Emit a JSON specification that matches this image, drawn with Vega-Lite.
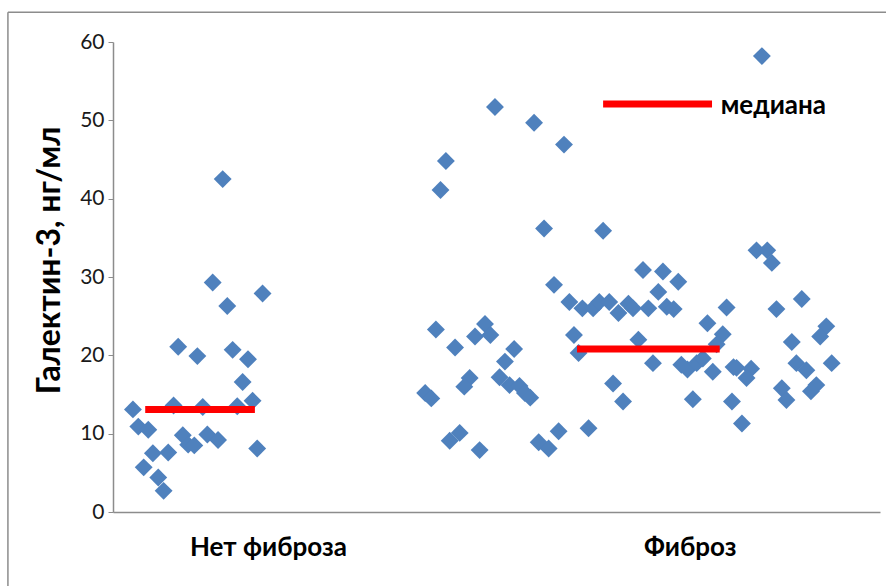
{
  "$schema": "https://vega.github.io/schema/vega-lite/v6.json",
  "width": 767,
  "height": 470,
  "autosize": {"type": "none"},
  "padding": {"left": 113, "top": 42, "right": 6, "bottom": 74},
  "background": "white",
  "config": {
    "view": {"stroke": null},
    "font": "Lato"
  },
  "datasets": {
    "points": [
      {"pos": 14.3, "value": 42.5}, {"pos": 13.0, "value": 29.3}, {"pos": 19.5, "value": 27.9},
      {"pos": 14.9, "value": 26.3}, {"pos": 8.5, "value": 21.1}, {"pos": 11.0, "value": 19.9},
      {"pos": 15.6, "value": 20.7}, {"pos": 17.6, "value": 19.5}, {"pos": 16.9, "value": 16.6},
      {"pos": 2.6, "value": 13.1}, {"pos": 7.9, "value": 13.6}, {"pos": 11.7, "value": 13.4},
      {"pos": 16.2, "value": 13.5}, {"pos": 18.2, "value": 14.2}, {"pos": 3.3, "value": 10.9},
      {"pos": 4.6, "value": 10.5}, {"pos": 9.1, "value": 9.8}, {"pos": 9.8, "value": 8.6},
      {"pos": 10.6, "value": 8.5}, {"pos": 12.3, "value": 9.9}, {"pos": 13.7, "value": 9.2},
      {"pos": 18.8, "value": 8.1}, {"pos": 5.2, "value": 7.5}, {"pos": 7.2, "value": 7.6},
      {"pos": 4.0, "value": 5.7}, {"pos": 5.9, "value": 4.4}, {"pos": 6.6, "value": 2.7},

      {"pos": 49.8, "value": 51.7}, {"pos": 54.9, "value": 49.7}, {"pos": 58.8, "value": 46.9},
      {"pos": 43.4, "value": 44.8}, {"pos": 42.7, "value": 41.1}, {"pos": 56.2, "value": 36.2},
      {"pos": 63.9, "value": 35.9}, {"pos": 57.5, "value": 29.0}, {"pos": 59.5, "value": 26.8},
      {"pos": 61.2, "value": 26.0}, {"pos": 62.6, "value": 26.0}, {"pos": 63.4, "value": 26.8},
      {"pos": 64.7, "value": 26.8}, {"pos": 65.9, "value": 25.4}, {"pos": 67.2, "value": 26.6},
      {"pos": 67.8, "value": 26.0}, {"pos": 69.8, "value": 26.0}, {"pos": 72.2, "value": 26.2},
      {"pos": 73.1, "value": 25.9}, {"pos": 69.1, "value": 30.9}, {"pos": 71.7, "value": 30.7},
      {"pos": 73.7, "value": 29.4}, {"pos": 71.1, "value": 28.1}, {"pos": 42.1, "value": 23.3},
      {"pos": 44.6, "value": 21.0}, {"pos": 48.5, "value": 24.0}, {"pos": 47.2, "value": 22.4},
      {"pos": 49.2, "value": 22.6}, {"pos": 52.3, "value": 20.8}, {"pos": 51.1, "value": 19.2},
      {"pos": 60.1, "value": 22.6}, {"pos": 60.7, "value": 20.3}, {"pos": 40.7, "value": 15.2},
      {"pos": 41.5, "value": 14.5}, {"pos": 46.5, "value": 17.1}, {"pos": 45.8, "value": 16.0},
      {"pos": 50.4, "value": 17.2}, {"pos": 51.7, "value": 16.2}, {"pos": 53.0, "value": 16.1},
      {"pos": 53.7, "value": 15.2}, {"pos": 54.4, "value": 14.6}, {"pos": 43.9, "value": 9.1},
      {"pos": 45.2, "value": 10.1}, {"pos": 47.8, "value": 7.9}, {"pos": 55.5, "value": 8.9},
      {"pos": 56.8, "value": 8.1}, {"pos": 58.1, "value": 10.3}, {"pos": 62.0, "value": 10.7},
      {"pos": 68.5, "value": 22.0}, {"pos": 70.4, "value": 19.0}, {"pos": 65.2, "value": 16.4},
      {"pos": 66.5, "value": 14.1}, {"pos": 80.0, "value": 26.1}, {"pos": 77.5, "value": 24.1},
      {"pos": 79.5, "value": 22.7}, {"pos": 78.7, "value": 21.4}, {"pos": 74.1, "value": 18.8},
      {"pos": 74.9, "value": 18.2}, {"pos": 76.1, "value": 19.0}, {"pos": 76.9, "value": 19.6},
      {"pos": 78.2, "value": 17.9}, {"pos": 80.9, "value": 18.5}, {"pos": 75.6, "value": 14.4},
      {"pos": 80.7, "value": 14.1}, {"pos": 83.9, "value": 33.4}, {"pos": 85.3, "value": 33.4},
      {"pos": 85.9, "value": 31.8}, {"pos": 89.8, "value": 27.2}, {"pos": 86.5, "value": 25.9},
      {"pos": 93.0, "value": 23.7}, {"pos": 92.2, "value": 22.4}, {"pos": 88.5, "value": 21.7},
      {"pos": 89.1, "value": 19.0}, {"pos": 90.4, "value": 18.1}, {"pos": 93.7, "value": 19.0},
      {"pos": 81.3, "value": 18.4}, {"pos": 83.2, "value": 18.3}, {"pos": 82.6, "value": 17.1},
      {"pos": 87.2, "value": 15.8}, {"pos": 87.8, "value": 14.3}, {"pos": 91.7, "value": 16.2},
      {"pos": 91.0, "value": 15.4}, {"pos": 82.0, "value": 11.3}, {"pos": 84.6, "value": 58.2}
    ],
    "medians": [
      {"group": "Нет фиброза", "start": 4.2, "end": 18.5, "median": 13.1},
      {"group": "Фиброз", "start": 60.5, "end": 79.1, "median": 20.8},
      {"group": "legend", "start": 63.9, "end": 78.1, "median": 52.1}
    ],
    "legendLabel": [
      {"pos": 79.1, "value": 51.8, "label": "медиана"}
    ]
  },
  "layer": [
    {
      "description": "chart-area frame: top edge",
      "data": {"values": [{}]},
      "mark": {"type": "rule", "color": "#8c8c8c", "strokeWidth": 1.5, "clip": false},
      "encoding": {
        "x": {"datum": -13.7, "type": "quantitative"},
        "x2": {"datum": 102},
        "y": {"datum": 63.8, "type": "quantitative"}
      }
    },
    {
      "description": "chart-area frame: left edge",
      "data": {"values": [{}]},
      "mark": {"type": "rule", "color": "#8c8c8c", "strokeWidth": 1.5, "clip": false},
      "encoding": {
        "x": {"datum": -13.7, "type": "quantitative"},
        "y": {"datum": 63.8, "type": "quantitative"},
        "y2": {"datum": -12}
      }
    },
    {
      "data": {"name": "points"},
      "mark": {"type": "point", "shape": "diamond", "filled": true, "size": 320, "color": "#4F81BD", "opacity": 1},
      "encoding": {
        "x": {
          "field": "pos", "type": "quantitative",
          "scale": {"domain": [0, 100], "nice": false, "zero": false},
          "axis": {
            "values": [20.2, 75.2],
            "labelExpr": "datum.value < 50 ? 'Нет фиброза' : 'Фиброз'",
            "title": null,
            "grid": false,
            "ticks": false,
            "domainColor": "#8c8c8c",
            "domainWidth": 1.5,
            "labelFont": "Lato",
            "labelFontSize": 26,
            "labelFontWeight": "bold",
            "labelColor": "#000000",
            "labelBaseline": "middle",
            "labelPadding": 35,
            "labelFlush": false,
            "labelOverlap": false
          }
        },
        "y": {
          "field": "value", "type": "quantitative",
          "scale": {"domain": [0, 60], "nice": false},
          "axis": {
            "values": [0, 10, 20, 30, 40, 50, 60],
            "title": "Галектин-3, нг/мл",
            "titleFont": "Lato",
            "titleFontSize": 32,
            "titleFontWeight": "bold",
            "titleColor": "#000000",
            "titleAngle": -90,
            "titleX": -64,
            "titleY": 218,
            "titleAlign": "center",
            "titleBaseline": "middle",
            "grid": false,
            "tickSize": 5,
            "tickColor": "#8c8c8c",
            "domainColor": "#8c8c8c",
            "domainWidth": 1.5,
            "labelFont": "Lato",
            "labelFontSize": 21,
            "labelColor": "#1a1a1a",
            "labelPadding": 4
          }
        }
      }
    },
    {
      "data": {"name": "medians"},
      "mark": {"type": "rule", "color": "#FF0000", "strokeWidth": 7},
      "encoding": {
        "x": {"field": "start", "type": "quantitative"},
        "x2": {"field": "end"},
        "y": {"field": "median", "type": "quantitative"}
      }
    },
    {
      "data": {"name": "legendLabel"},
      "mark": {"type": "text", "align": "left", "baseline": "middle", "dx": 1, "font": "Lato", "fontSize": 26, "fontWeight": "bold", "color": "#000000"},
      "encoding": {
        "x": {"field": "pos", "type": "quantitative"},
        "y": {"field": "value", "type": "quantitative"},
        "text": {"field": "label"}
      }
    }
  ]
}
